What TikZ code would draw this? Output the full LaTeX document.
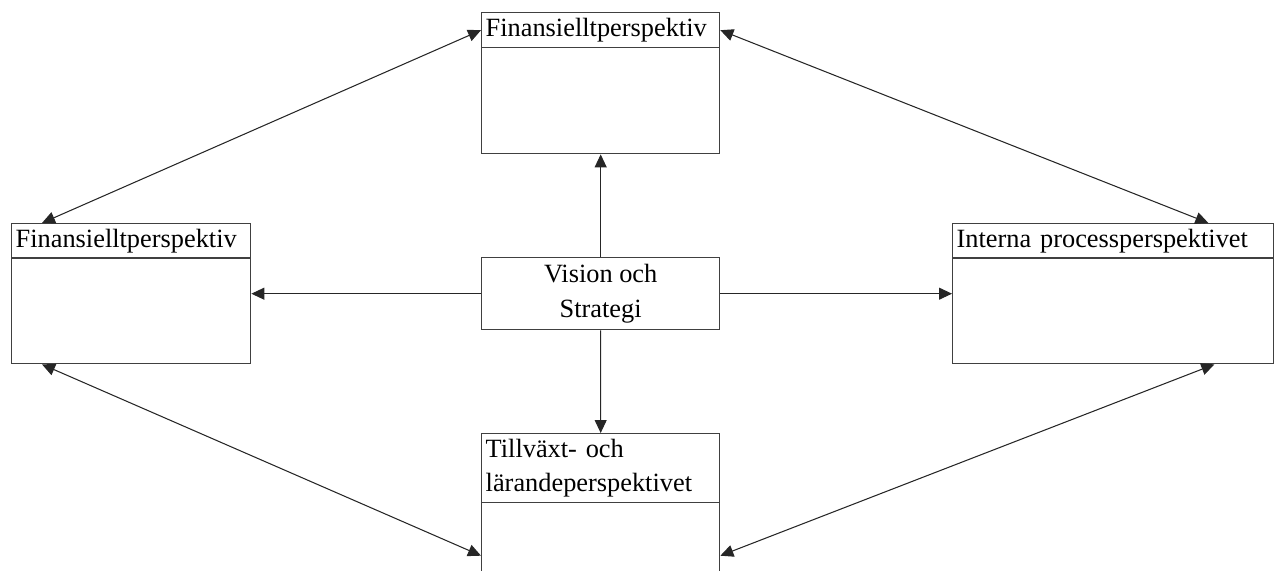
\documentclass[tikz,border=0pt]{standalone}
\usepackage{fontspec}
\setmainfont{Liberation Serif}
\usepackage{tikz}
\usetikzlibrary{arrows.meta, positioning}

\begin{document}
\begin{tikzpicture}[
  x=0.02cm,y=-0.02cm,
  every node/.style={font=\fontsize{15}{19.8}\selectfont},
  hdr/.style={draw=black!75, line width=0.8pt, anchor=north west, inner xsep=0.08cm, inner ysep=0.04cm, minimum height=0.70cm, align=left},
  body/.style={draw=black!75, line width=0.8pt, anchor=north west, minimum height=2.12cm},
  visbox/.style={draw=black!75, line width=0.8pt, anchor=north west, minimum width=4.76cm, minimum height=1.44cm, align=center},
  link/.style={-{Triangle[length=0.26cm, width=0.24cm]}, line width=0.6pt, draw=black!85},
  both/.style={{Triangle[length=0.26cm, width=0.24cm]}-{Triangle[length=0.26cm, width=0.24cm]}, line width=0.6pt, draw=black!85}
]
\useasboundingbox (0,0) rectangle (1278,571);

% perspective boxes
\node[hdr, text width=4.60cm] (hdrTop) at (481,12) {Finansielltperspektiv};
\node[body, minimum width=4.76cm] (bodyTop) at (481,47) {};

\node[hdr, text width=4.62cm] (hdrLeft) at (11,223) {Finansielltperspektiv};
\node[body, minimum width=4.78cm] (bodyLeft) at (11,257) {};

\node[hdr, text width=6.26cm] (hdrRight) at (952,223) {Interna processperspektivet};
\node[body, minimum width=6.42cm] (bodyRight) at (952,257) {};

\node[hdr, text width=4.60cm, minimum height=1.38cm] (hdrBot) at (481,433) {Tillväxt- och\\lärandeperspektivet};
\node[body, minimum width=4.76cm] (bodyBot) at (481,502) {};

% vision
\node[visbox] (vis) at (481,257) {Vision och\\Strategi};

% from vision
\draw[link] (vis.north) -- (bodyTop.south);
\draw[link] (vis.south) -- (hdrBot.north);
\draw[link] (vis.west) -- (vis.west -| bodyLeft.east);
\draw[link] (vis.east) -- (vis.east -| bodyRight.west);

% between perspectives
\draw[both] (hdrTop.west) -- ([xshift=0.62cm]hdrLeft.north west);
\draw[both] (hdrTop.east) -- ([xshift=-1.32cm]hdrRight.north east);
\draw[both] ([xshift=0.62cm]bodyLeft.south west) -- (bodyBot.west);
\draw[both] ([xshift=-1.20cm]bodyRight.south east) -- (bodyBot.east);

\end{tikzpicture}
\end{document}
